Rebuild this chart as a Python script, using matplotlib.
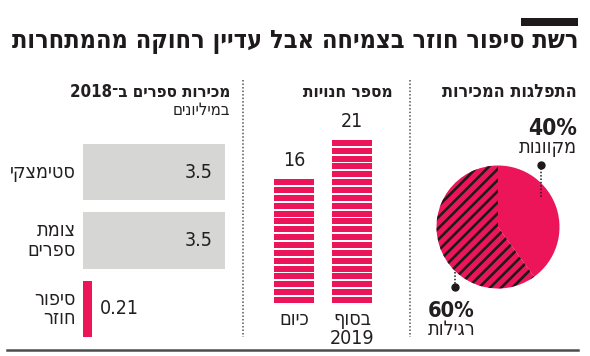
import re
import matplotlib
matplotlib.use('Agg')
import matplotlib.pyplot as plt
from matplotlib.lines import Line2D
from matplotlib.patches import Rectangle

# Data
title = 'רשת סיפור חוזר בצמיחה אבל עדיין רחוקה מהמתחרות'

sales_title = 'מכירות ספרים ב־2018'
sales_unit = 'במיליונים'
chains = ['סטימצקי', 'צומת\nספרים', 'סיפור\nחוזר']
sales = [3.5, 3.5, 0.21]
sales_labels = ['3.5', '3.5', '0.21']

stores_title = 'מספר חנויות'
store_cats = ['כיום', 'בסוף\n2019']
stores = [16, 21]

split_title = 'התפלגות המכירות'
split_names = ['מקוונות', 'רגילות']
split_pct = [40, 60]

PINK = '#EC1559'
GRAY = '#D6D6D4'
TEXT = '#231F20'
FONT = dict(family='DejaVu Sans', fontstretch='condensed')

plt.rcParams['hatch.linewidth'] = 1.9
plt.rcParams['hatch.color'] = '#1E1A1B'

W, H = 590, 356


def heb(s):
    # no bidi in matplotlib: flip hebrew runs, keep digit runs as they are
    lines = []
    for line in s.split('\n'):
        parts = re.findall(r'\d+|\D+', line)
        lines.append(''.join(p if p.isdigit() else p[::-1] for p in reversed(parts)))
    return '\n'.join(lines)


def px(x, y):
    return x / W, 1 - y / H


def box(x0, y0, x1, y1):
    return [x0 / W, 1 - y1 / H, (x1 - x0) / W, (y1 - y0) / H]


fig = plt.figure(figsize=(W / 100, H / 100), dpi=100)
renderer = fig.canvas.get_renderer()


def fit(t, width):
    # scale font so the text is as wide as in the original
    w = t.get_window_extent(renderer).width
    t.set_fontsize(t.get_fontsize() * width / w)
    return t.get_fontsize()


# header
fig.patches.append(Rectangle(px(521, 26), 57 / W, 8 / H, transform=fig.transFigure,
                             color='#1E1A1B', lw=0))
t = fig.text(*px(578, 48), heb(title), ha='right', va='baseline', fontsize=16,
             fontweight='bold', color='#1E1A1B', **FONT)
fit(t, 566)

# separators and bottom rule
for xs in [243, 410]:
    fig.lines.append(Line2D([xs / W] * 2, [1 - 80 / H, 1 - 337 / H], transform=fig.transFigure,
                            color='#555555', lw=1.1, ls=(0, (1, 1.3))))
fig.lines.append(Line2D([7 / W, 578 / W], [1 - 350 / H] * 2, transform=fig.transFigure,
                        color='#4D4D4D', lw=1.8))

# panel titles
t = fig.text(*px(230, 97), heb(sales_title), ha='right', va='baseline', fontsize=13,
             fontweight='bold', color=TEXT, **FONT)
fit(t, 160)
t = fig.text(*px(230, 115), heb(sales_unit), ha='right', va='baseline', fontsize=11,
             color=TEXT, **FONT)
fit(t, 57)
t = fig.text(*px(393, 97), heb(stores_title), ha='right', va='baseline', fontsize=13,
             fontweight='bold', color=TEXT, **FONT)
fit(t, 90)
t = fig.text(*px(577, 97), heb(split_title), ha='right', va='baseline', fontsize=13,
             fontweight='bold', color=TEXT, **FONT)
fit(t, 134)

# body text size taken from the first chain name
probe = fig.text(0, 0, heb(chains[0]), fontsize=12, **FONT)
BODY = fit(probe, 66)
probe.remove()

# left: book sales
ax1 = fig.add_axes(box(83, 144, 225, 337))
ypos = range(len(sales))
colors = [GRAY, GRAY, PINK]
ax1.barh(ypos, sales, height=0.82, color=colors)
ax1.set_xlim(0, max(sales))
ax1.set_ylim(len(sales) - 0.59, -0.41)
ax1.axis('off')
for i, (v, lab, name) in enumerate(zip(sales, sales_labels, chains)):
    if v > 1:
        ax1.text(v - 0.3, i, lab, ha='right', va='center', fontsize=BODY, color=TEXT, **FONT)
    else:
        ax1.text(v + 0.2, i, lab, ha='left', va='center', fontsize=BODY, color=TEXT, **FONT)
    ax1.text(-0.17, i, heb(name), ha='right', va='center', fontsize=BODY,
             color=TEXT, multialignment='right', linespacing=1.05, **FONT)

# middle: number of stores, one stripe per store
ax2 = fig.add_axes(box(274, 138, 372, 303))
for i, n in enumerate(stores):
    for k in range(n):
        ax2.bar(i, 0.76, bottom=k, width=0.69, color=PINK, lw=0)
    ax2.text(i, n + 0.9, str(n), ha='center', va='bottom', fontsize=BODY, color=TEXT, **FONT)
    ax2.text(i, -0.9, heb(store_cats[i]), ha='center', va='top', fontsize=BODY,
             color=TEXT, linespacing=1.0, **FONT)
ax2.set_xlim(-0.345, len(stores) - 0.655)
ax2.set_ylim(0, max(stores))
ax2.axis('off')

# right: online vs. regular sales
ax3 = fig.add_axes(box(436.5, 165.5, 559.5, 288.5))
ax3.pie(split_pct, startangle=90, counterclock=False, colors=[PINK, PINK],
        hatch=['', '///'], wedgeprops=dict(edgecolor='#1E1A1B', linewidth=0))
ax3.set_xlim(-1, 1)
ax3.set_ylim(-1, 1)

# leaders
ax3.plot([0.70, 0.70], [1.01, 0.49], color='#1E1A1B', lw=1.1, ls=(0, (1, 1.2)), clip_on=False)
ax3.plot([0.70], [1.01], 'o', color='#1E1A1B', ms=5, clip_on=False)
ax3.plot([-0.70, -0.70], [-0.98, -0.70], color='#1E1A1B', lw=1.1, ls=(0, (1, 1.2)), clip_on=False)
ax3.plot([-0.70], [-0.98], 'o', color='#1E1A1B', ms=5, clip_on=False)

t = fig.text(*px(577, 135), f'{split_pct[0]}%', ha='right', va='baseline', fontsize=16,
             fontweight='bold', color=TEXT, **FONT)
fit(t, 49)
t = fig.text(*px(577, 153), heb(split_names[0]), ha='right', va='baseline', fontsize=BODY,
             color=TEXT, **FONT)
t = fig.text(*px(428, 317), f'{split_pct[1]}%', ha='left', va='baseline', fontsize=16,
             fontweight='bold', color=TEXT, **FONT)
fit(t, 47)
t = fig.text(*px(428, 335), heb(split_names[1]), ha='left', va='baseline', fontsize=BODY,
             color=TEXT, **FONT)

fig.savefig('out.png', dpi=100)
